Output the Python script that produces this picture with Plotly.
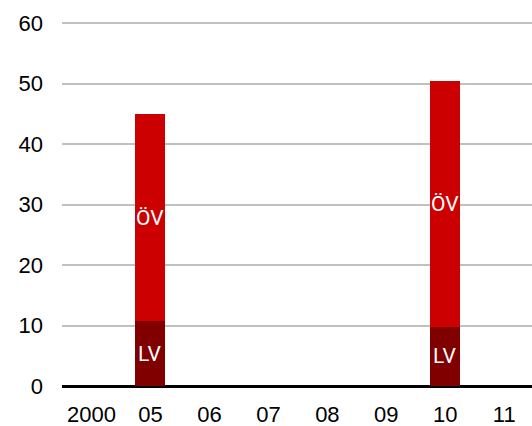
import plotly.graph_objects as go

# Categories (years) and stacked series values
years = ["2000", "05", "06", "07", "08", "09", "10", "11"]
lv_values = [None, 10.7, None, None, None, None, 9.8, None]
ov_values = [None, 34.3, None, None, None, None, 40.7, None]
y_ticks = [0, 10, 20, 30, 40, 50, 60]

fig = go.Figure()

fig.add_trace(go.Bar(x=years, y=lv_values, name="LV",
                     marker=dict(color="#800000", line=dict(width=0))))
fig.add_trace(go.Bar(x=years, y=ov_values, name="ÖV",
                     marker=dict(color="#cc0000", line=dict(width=0))))

# Segment labels centred in each stacked segment (x given as category index)
label_font = dict(family="Roboto", size=21, color="white")
for i, (lv, ov) in enumerate(zip(lv_values, ov_values)):
    if lv is None:
        continue
    fig.add_annotation(x=i, y=lv / 2, text="LV", showarrow=False,
                       xref="x", yref="y", font=label_font)
    fig.add_annotation(x=i, y=lv + ov / 2, text="ÖV", showarrow=False,
                       xref="x", yref="y", font=label_font)

fig.update_layout(
    width=532, height=426, autosize=False,
    margin=dict(l=62, r=0, t=17, b=40),
    barmode="stack", bargap=0.49,
    showlegend=False,
    plot_bgcolor="white", paper_bgcolor="white",
    font=dict(family="Liberation Sans", size=22, color="black"),
)
fig.update_xaxes(
    type="category", range=[-0.5, 7.47],
    showgrid=False, showline=False, ticks="",
    tickfont=dict(family="Liberation Sans", size=22, color="black"),
    ticklabelstandoff=13, automargin=False,
)
fig.update_yaxes(
    range=[0, 61], tickvals=y_ticks,
    showgrid=True, gridcolor="#c0c0c0", gridwidth=2,
    zeroline=True, zerolinecolor="black", zerolinewidth=3,
    showline=False, ticks="",
    tickfont=dict(family="Liberation Sans", size=22, color="black"),
    ticklabelstandoff=18, automargin=False,
)

fig.write_html("out.html", config={"displayModeBar": False})
